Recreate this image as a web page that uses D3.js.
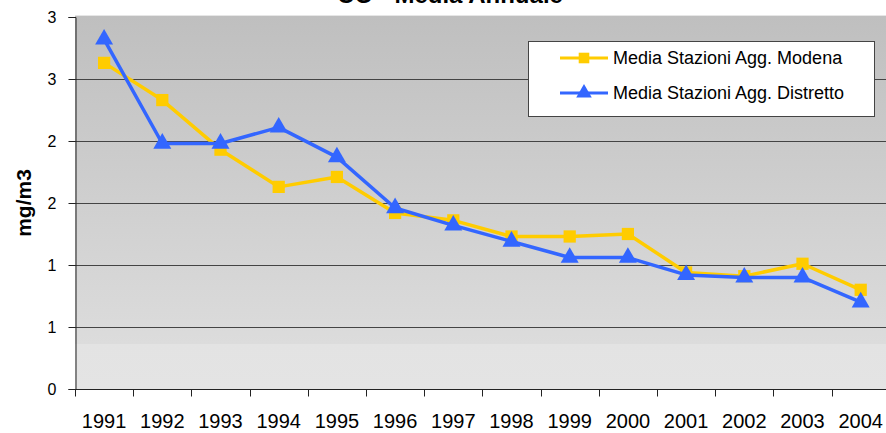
<!DOCTYPE html>
<html>
<head>
<meta charset="utf-8">
<script src="https://cdn.jsdelivr.net/npm/d3@7"></script>
<style>
  body { margin: 0; background: #fff; }
  text { font-family: "Liberation Sans", Arial, sans-serif; }
</style>
</head>
<body>
<script>
var years = ["1991", "1992", "1993", "1994", "1995", "1996", "1997",
  "1998", "1999", "2000", "2001", "2002", "2003", "2004"];
var modena = [2.63, 2.33, 1.93, 1.63, 1.71, 1.42, 1.36,
  1.23, 1.23, 1.25, 0.94, 0.91, 1.01, 0.80];
var distretto = [2.82, 1.98, 1.98, 2.11, 1.87, 1.46, 1.32,
  1.19, 1.06, 1.06, 0.92, 0.90, 0.90, 0.70];
var yTicks = [0, 0.5, 1, 1.5, 2, 2.5, 3];
var yTickLabels = ["0", "1", "1", "2", "2", "3", "3"];
var seriesNames = ["Media Stazioni Agg. Modena", "Media Stazioni Agg. Distretto"];

var width = 886, height = 433;
var plotLeft = 75, plotTop = 16, plotBottom = 389;
var plotRight = 75 + 58.2 * 14;

var svg = d3.select("body").append("svg")
  .attr("width", width)
  .attr("height", height);

var x = d3.scaleBand().domain(years).range([plotLeft, plotRight]);
var y = d3.scaleLinear().domain([0, 3]).range([plotBottom, plotTop + 1]);

// plot background
var grad = svg.append("defs").append("linearGradient")
  .attr("id", "bg").attr("x1", 0).attr("y1", 0).attr("x2", 0).attr("y2", 1);
grad.append("stop").attr("offset", "0%").attr("stop-color", "#bfbfbf");
grad.append("stop").attr("offset", "88%").attr("stop-color", "#dcdcdc");
grad.append("stop").attr("offset", "88%").attr("stop-color", "#e3e3e3");
grad.append("stop").attr("offset", "100%").attr("stop-color", "#e4e4e4");

svg.append("rect")
  .attr("x", plotLeft).attr("y", plotTop)
  .attr("width", plotRight - plotLeft).attr("height", plotBottom - plotTop)
  .attr("fill", "url(#bg)");
svg.append("line")
  .attr("x1", plotLeft).attr("x2", width)
  .attr("y1", plotTop - 0.5).attr("y2", plotTop - 0.5)
  .attr("stroke", "#e6e6e6");

// gridlines
svg.selectAll(".grid")
  .data(yTicks.slice(1, -1))
  .enter().append("line")
  .attr("x1", plotLeft).attr("x2", plotRight)
  .attr("y1", function(d) { return Math.round(y(d)) + 0.5; })
  .attr("y2", function(d) { return Math.round(y(d)) + 0.5; })
  .attr("stroke", "#444").attr("stroke-width", 1);

// axes
var yAxis = svg.append("g")
  .attr("transform", "translate(" + (plotLeft + 0.5) + ",0)")
  .call(d3.axisLeft(y).tickValues(yTicks).tickSize(7).tickPadding(12)
    .tickFormat(function(d, i) { return yTickLabels[i]; }));
yAxis.selectAll("text").attr("font-size", 16).attr("fill", "#000")
  .style("font-family", "Liberation Sans, Arial, sans-serif");
yAxis.selectAll("line, path").attr("stroke", "#222");

var xTickScale = d3.scaleLinear().domain([0, 14]).range([plotLeft, plotRight]);
var xAxis = svg.append("g")
  .attr("transform", "translate(0," + (plotBottom + 0.5) + ")");
xAxis.append("line")
  .attr("x1", plotLeft).attr("x2", width).attr("stroke", "#222");
xAxis.selectAll(".tick")
  .data(d3.range(14))
  .enter().append("line")
  .attr("x1", function(d) { return Math.round(xTickScale(d)) + 0.5; })
  .attr("x2", function(d) { return Math.round(xTickScale(d)) + 0.5; })
  .attr("y1", 0).attr("y2", 7)
  .attr("stroke", "#222");
xAxis.selectAll(".lbl")
  .data(years)
  .enter().append("text")
  .attr("x", function(d) { return x(d) + x.bandwidth() / 2; })
  .attr("y", 38)
  .attr("text-anchor", "middle")
  .attr("font-size", 20)
  .text(function(d) { return d; });

// title and y label
svg.append("text")
  .attr("x", 450).attr("y", 3)
  .attr("text-anchor", "middle")
  .attr("font-size", 24).attr("font-weight", "bold")
  .text("CO - Media Annuale");

svg.append("text")
  .attr("transform", "translate(31,203) rotate(-90)")
  .attr("text-anchor", "middle")
  .attr("font-size", 21).attr("font-weight", "bold")
  .text("mg/m3");

// series
var cx = function(d, i) { return x(years[i]) + x.bandwidth() / 2; };
var line = d3.line()
  .x(cx)
  .y(function(d) { return y(d); });

var colors = ["#ffcc00", "#3366ff"];
var symbols = [d3.symbolSquare, d3.symbolTriangle];
var symSizes = [150, 140];

[modena, distretto].forEach(function(data, k) {
  svg.append("path")
    .datum(data)
    .attr("d", line)
    .attr("fill", "none")
    .attr("stroke", colors[k])
    .attr("stroke-width", 3.5)
    .attr("stroke-linejoin", "round");
  svg.selectAll(".m" + k)
    .data(data)
    .enter().append("path")
    .attr("d", d3.symbol().type(symbols[k]).size(symSizes[k]))
    .attr("transform", function(d, i) {
      return "translate(" + cx(d, i) + "," + y(d) + ")";
    })
    .attr("fill", colors[k]);
});

// legend
var legend = svg.append("g");
legend.append("rect")
  .attr("x", 528.5).attr("y", 41.5)
  .attr("width", 346).attr("height", 75)
  .attr("fill", "#fff").attr("stroke", "#444");
seriesNames.forEach(function(name, k) {
  var ly = 58 + k * 35;
  legend.append("line")
    .attr("x1", 560).attr("x2", 608).attr("y1", ly).attr("y2", ly)
    .attr("stroke", colors[k]).attr("stroke-width", 3);
  legend.append("path")
    .attr("d", d3.symbol().type(symbols[k]).size(symSizes[k] * 0.75))
    .attr("transform", "translate(584," + ly + ")")
    .attr("fill", colors[k]);
  legend.append("text")
    .attr("x", 613).attr("y", ly + 6)
    .attr("font-size", 18)
    .text(name);
});
</script>
</body>
</html>
